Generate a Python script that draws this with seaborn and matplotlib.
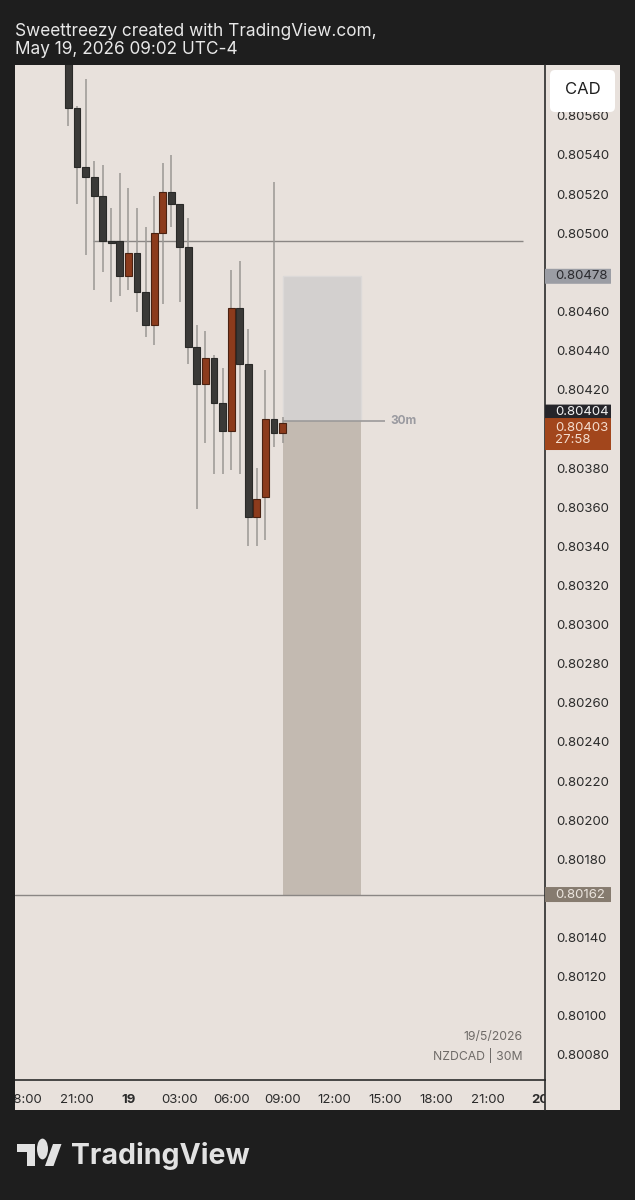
import numpy as np
import pandas as pd
import matplotlib
matplotlib.use("Agg")
import matplotlib.pyplot as plt
import seaborn as sns
from matplotlib.patches import Rectangle, FancyBboxPatch, Polygon, Circle
import matplotlib.transforms as mtransforms

# NZDCAD 30m candles, 18/5 20:30 -> 19/5 09:00 (hours counted from 18/5 00:00)
hours = [20.5, 21.0, 21.5, 22.0, 22.5, 23.0, 23.5, 24.0, 24.5, 25.0, 25.5, 26.0, 26.5,
         27.0, 27.5, 28.0, 28.5, 29.0, 29.5, 30.0, 30.5, 31.0, 31.5, 32.0, 32.5, 33.0]
opens = [0.80600, 0.80564, 0.80534, 0.80529, 0.80519, 0.80496, 0.80496, 0.80478, 0.80490,
         0.80470, 0.80453, 0.80500, 0.80521, 0.80515, 0.80493, 0.80442, 0.80423, 0.80436,
         0.80413, 0.80399, 0.80462, 0.80433, 0.80355, 0.80365, 0.80405, 0.80398]
highs = [0.80610, 0.80565, 0.80579, 0.80537, 0.80535, 0.80513, 0.80531, 0.80523, 0.80513,
         0.80503, 0.80519, 0.80536, 0.80540, 0.80515, 0.80508, 0.80453, 0.80450, 0.80438,
         0.80431, 0.80481, 0.80486, 0.80451, 0.80380, 0.80430, 0.80526, 0.80406]
lows = [0.80555, 0.80515, 0.80489, 0.80471, 0.80480, 0.80465, 0.80468, 0.80471, 0.80460,
        0.80447, 0.80443, 0.80464, 0.80503, 0.80465, 0.80433, 0.80359, 0.80393, 0.80377,
        0.80377, 0.80379, 0.80377, 0.80340, 0.80340, 0.80343, 0.80391, 0.80393]
closes = [0.80564, 0.80534, 0.80529, 0.80519, 0.80496, 0.80495, 0.80478, 0.80490, 0.80470,
          0.80453, 0.80500, 0.80521, 0.80515, 0.80493, 0.80442, 0.80423, 0.80436, 0.80413,
          0.80399, 0.80462, 0.80433, 0.80355, 0.80364, 0.80405, 0.80398, 0.80403]

# scale labels (the ones hidden behind price tags are left out, as on the original)
price_ticks = [0.80080, 0.80100, 0.80120, 0.80140, 0.80180, 0.80200, 0.80220,
               0.80240, 0.80260, 0.80280, 0.80300, 0.80320, 0.80340, 0.80360, 0.80380,
               0.80420, 0.80440, 0.80460, 0.80500, 0.80520, 0.80540, 0.80560]
time_ticks = [18, 21, 24, 27, 30, 33, 36, 39, 42, 45, 48]
time_labels = ["18:00", "21:00", "19", "03:00", "06:00", "09:00", "12:00", "15:00",
               "18:00", "21:00", "20"]

level_line = 0.80496
target_line = 0.80162
entry = 0.80404
stop = 0.80478
last_price = 0.80403

df = pd.DataFrame({"t": hours, "o": opens, "h": highs, "l": lows, "c": closes})
df["up"] = df["c"] >= df["o"]

sns.set_theme(style="white")
plt.rcParams["font.family"] = ["Inter", "DejaVu Sans"]

W, H = 635, 1200
BG = "#1e1e1e"
PANEL = "#e8e1dc"
DARK = "#3a3937"
ORANGE = "#8c3b1c"

fig = plt.figure(figsize=(6.35, 12), dpi=100, facecolor=BG)


def fr(x0, y0, x1, y1):
    # pixel box (top-left origin) -> figure fraction rect
    return [x0 / W, 1 - y1 / H, (x1 - x0) / W, (y1 - y0) / H]


# light panel behind chart, price scale and time scale
r = fr(15, 65, 620, 1110)
fig.patches.append(Rectangle((r[0], r[1]), r[2], r[3], transform=fig.transFigure,
                             facecolor=PANEL, edgecolor="none", zorder=-1))

ax = fig.add_axes(fr(15, 65, 545, 1080))
ax.set_facecolor(PANEL)
ax.set_xlim(17.38, 48.32)
ax.set_ylim(0.800672, 0.805860)

# position tool (short)
ax.add_patch(Rectangle((33.03, entry), 4.55, stop - entry, facecolor="#d3d0cf",
                       edgecolor="#dcd9d8", lw=1, zorder=1))
ax.add_patch(Rectangle((33.03, target_line), 4.55, entry - target_line, facecolor="#c3bab1",
                       edgecolor="none", zorder=1))

# drawn lines
ax.hlines(level_line, 21.94, 47.04, color="#8a8684", lw=1, zorder=2)
ax.axhline(target_line, color="#8a8684", lw=1, zorder=2)
ax.hlines(entry, 33.03, 38.98, color="#9c9a9a", lw=1.2, zorder=4)
ax.text(39.3, entry, "30m", color="#9a9aa0", fontsize=8.5, fontweight="bold",
        va="center", ha="left", zorder=4)

# candles
bw = 0.40
ax.vlines(df["t"], df["l"], df["h"], color="#9a9794", lw=1.1, zorder=3)
for up, col, ec in [(True, ORANGE, "#4a2212"), (False, DARK, "#2a2a28")]:
    d = df[df["up"] == up]
    body = (d["c"] - d["o"]).abs().clip(lower=0.000008)
    ax.bar(d["t"], body, bottom=d[["o", "c"]].min(axis=1), width=bw, color=col,
           edgecolor=ec, linewidth=0.8, zorder=3)

# axes styling
for s in ["top", "left"]:
    ax.spines[s].set_visible(False)
for s in ["right", "bottom"]:
    ax.spines[s].set_color("#2b2b2b")
    ax.spines[s].set_linewidth(1.2)
ax.yaxis.tick_right()
ax.set_yticks(price_ticks)
ax.set_yticklabels([f"{p:.5f}" for p in price_ticks])
ax.tick_params(axis="y", length=0, pad=8, labelsize=9.5, labelcolor="#2b2b2b")
ax.set_xticks(time_ticks)
ax.set_xticklabels(time_labels)
ax.tick_params(axis="x", length=0, pad=10, labelsize=9.5, labelcolor="#2b2b2b")
for lab in ax.get_xticklabels():
    if lab.get_text() in ("19", "20"):
        lab.set_fontweight("bold")

# watermark
ax.text(0.957, 0.0425, "19/5/2026", transform=ax.transAxes, ha="right", va="center",
        fontsize=8.8, color="#6f6b68")
ax.text(0.957, 0.0245, "NZDCAD | 30M", transform=ax.transAxes, ha="right", va="center",
        fontsize=8.8, color="#6f6b68")

# price tags on the scale
tr = mtransforms.blended_transform_factory(ax.transAxes, ax.transData)
tag_w = 66 / 530
px = (ax.get_ylim()[1] - ax.get_ylim()[0]) / 1015


def tag(y, text, bg, fg, h=15, yc=None):
    yc = y if yc is None else yc
    ax.add_patch(FancyBboxPatch((1.0, yc - h / 2 * px), tag_w, h * px,
                                boxstyle="round,pad=0,rounding_size=0.004",
                                mutation_aspect=px * 30, transform=tr, facecolor=bg,
                                edgecolor="none", clip_on=False, zorder=6))
    ax.text(1.0 + 10 / 530, yc, text, transform=tr, ha="left", va="center",
            fontsize=9.5, color=fg, clip_on=False, zorder=7, linespacing=1.05)


tag(stop, "0.80478", "#9b9da4", "#2a2a2e")
tag(entry, "0.80404", "#25252a", "#f2f2f2", yc=entry + 9 * px)
tag(last_price, "0.80403\n27:58", "#a2461c", "#f4dccd", h=32, yc=last_price - 11 * px)
tag(target_line, "0.80162", "#867b6f", "#ece5de")

# cover clipped time labels at panel edges
r = fr(545, 1081, 620, 1110)
fig.patches.append(Rectangle((r[0], r[1]), r[2], r[3], transform=fig.transFigure,
                             facecolor=PANEL, edgecolor="none", zorder=5))
r = fr(0, 1078, 15, 1115)
fig.patches.append(Rectangle((r[0], r[1]), r[2], r[3], transform=fig.transFigure,
                             facecolor=BG, edgecolor="none", zorder=5))
r = fr(620, 60, 635, 1115)
fig.patches.append(Rectangle((r[0], r[1]), r[2], r[3], transform=fig.transFigure,
                             facecolor=BG, edgecolor="none", zorder=5))
fig.add_artist(plt.Line2D([545 / W, 545 / W], [1 - 1110 / H, 1 - 1080 / H],
                          transform=fig.transFigure, color="#2b2b2b", lw=1.2, zorder=6))

# CAD button (covers the top half of the 0.80560 label like the original)
r = fr(550, 70, 615, 112)
fig.patches.append(FancyBboxPatch((r[0], r[1]), r[2], r[3], transform=fig.transFigure,
                                  boxstyle="round,pad=0,rounding_size=0.008",
                                  mutation_aspect=W / H, facecolor="white",
                                  edgecolor="none", zorder=8))
fig.text(582.5 / W, 1 - 90 / H, "CAD", ha="center", va="center", fontsize=12,
         color="#1e1e1e", zorder=9)

# header
fig.text(15 / W, 1 - 31 / H, "Sweettreezy created with TradingView.com,", fontsize=12.4,
         color="#e8e8e8", va="center", ha="left")
fig.text(15 / W, 1 - 50 / H, "May 19, 2026 09:02 UTC-4", fontsize=12.4,
         color="#e8e8e8", va="center", ha="left")

# TradingView logo
logo = "#e2e2e2"


def p2f(x, y):
    return (x / W, 1 - y / H)


fig.patches.append(Polygon([p2f(17, 1144), p2f(35, 1144), p2f(35, 1166), p2f(27, 1166),
                            p2f(27, 1152), p2f(17, 1152)], closed=True,
                           transform=fig.transFigure, facecolor=logo, edgecolor="none"))
fig.patches.append(Circle(p2f(42.5, 1149), 5.5 / W, transform=fig.transFigure,
                          facecolor=logo, edgecolor="none"))
fig.patches.append(Polygon([p2f(53, 1144), p2f(61.5, 1144), p2f(53.5, 1166), p2f(45, 1166)],
                           closed=True, transform=fig.transFigure, facecolor=logo,
                           edgecolor="none"))
fig.text(71 / W, 1 - 1156 / H, "TradingView", fontsize=20.5, fontweight="bold",
         color=logo, va="center", ha="left")

fig.savefig("out.png", dpi=100, facecolor=BG)
